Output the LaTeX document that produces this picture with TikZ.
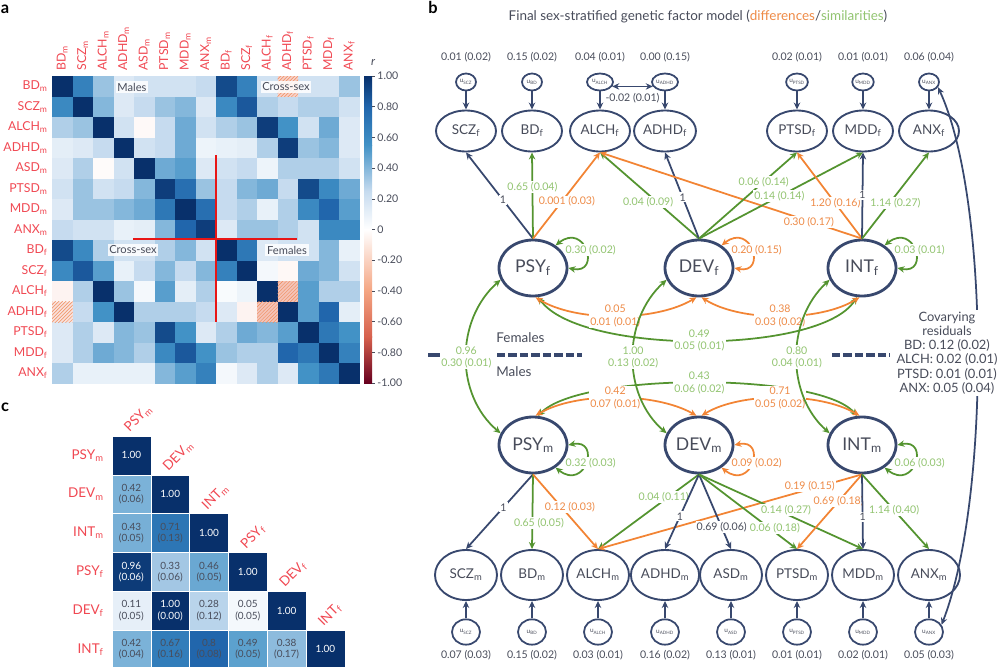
\documentclass[tikz,border=0pt]{standalone}
\usepackage{fontspec}
\setmainfont{Lato}
\usetikzlibrary{arrows.meta,shapes.geometric,patterns}

\definecolor{navyc}{RGB}{56,72,110}
\definecolor{txtc}{RGB}{72,76,90}
\definecolor{greenl}{RGB}{84,148,48}
\definecolor{greent}{RGB}{146,196,112}
\definecolor{orangel}{RGB}{242,132,52}
\definecolor{oranget}{RGB}{238,138,70}
\definecolor{redlab}{RGB}{240,72,82}
\definecolor{redcross}{RGB}{232,22,22}
\definecolor{hhigh}{RGB}{8,48,107}
\definecolor{hdeep}{RGB}{33,102,172}
\definecolor{hmid}{RGB}{66,146,198}
\definecolor{hlow}{RGB}{198,219,239}
\definecolor{hneg}{RGB}{230,120,95}
\definecolor{hpeach}{RGB}{244,165,130}
\definecolor{hred}{RGB}{214,96,77}
\definecolor{hdark}{RGB}{103,0,31}
\definecolor{hatchc}{RGB}{240,140,90}

% colour of a correlation cell -> cc
\newcommand\heat[1]{%
  \pgfmathsetmacro\hv{#1}%
  \ifdim\hv pt<0pt
    \pgfmathsetmacro\hp{min(100,-110*\hv)}%
    \colorlet{cc}{hneg!\hp!white}%
  \else\ifdim\hv pt<0.25pt
    \pgfmathsetmacro\hp{400*\hv}%
    \colorlet{cc}{hlow!\hp!white}%
  \else\ifdim\hv pt<0.55pt
    \pgfmathsetmacro\hp{333.3*(\hv-0.25)}%
    \colorlet{cc}{hmid!\hp!hlow}%
  \else\ifdim\hv pt<0.8pt
    \pgfmathsetmacro\hp{400*(\hv-0.55)}%
    \colorlet{cc}{hdeep!\hp!hmid}%
  \else
    \pgfmathsetmacro\hp{min(100,500*(\hv-0.8))}%
    \colorlet{cc}{hhigh!\hp!hdeep}%
  \fi\fi\fi\fi}
\newcommand\msub[1]{#1\textsubscript{m}}
\newcommand\fsub[1]{#1\textsubscript{f}}

\begin{document}
\begin{tikzpicture}[x=0.3mm, y=-0.3mm,
  hlab/.style={text=redlab, inner sep=1pt, font=\fontsize{10.5}{12}\selectfont},
  hnote/.style={fill=white, fill opacity=0.85, text opacity=1, text=txtc, inner sep=1.5pt, font=\fontsize{9.5}{10}\selectfont},
  tick/.style={text=txtc, inner sep=1pt, font=\fontsize{9}{10}\selectfont},
  cval/.style={align=center, inner sep=0pt, font=\fontsize{8.5}{9.5}\selectfont},
  clab/.style={text=redlab, inner sep=1pt, font=\fontsize{11.5}{13}\selectfont},
  ind/.style={ellipse, draw=navyc, line width=1.6pt, minimum width=18mm, minimum height=12.3mm, inner sep=0pt, text=txtc, font=\fontsize{11.5}{12}\selectfont},
  indm/.style={ind, minimum width=18.6mm, minimum height=15mm},
  fac/.style={ellipse, draw=navyc, line width=2.4pt, minimum width=20.4mm, minimum height=16.8mm, inner sep=0pt, text=txtc, font=\fontsize{15}{16}\selectfont},
  res/.style={ellipse, draw=navyc, line width=1.5pt, minimum height=5.1mm, inner sep=0pt, text=txtc, font=\fontsize{5.5}{6}\selectfont},
  resm/.style={res, minimum width=8.4mm, minimum height=7.6mm},
  val/.style={text=txtc, inner sep=1pt, font=\fontsize{9}{10}\selectfont},
  arr/.style={line width=1.5pt, -{Stealth[length=6pt,width=5.5pt]}},
  biarr/.style={line width=1.5pt, {Stealth[length=6pt,width=5.5pt]}-{Stealth[length=6pt,width=5.5pt]}},
  navyp/.style={arr, navyc}, greenp/.style={arr, greenl}, orangep/.style={arr, orangel},
  gbi/.style={biarr, greenl}, obi/.style={biarr, orangel},
  plab/.style={fill=white, inner sep=1pt, align=center, font=\fontsize{9}{10.5}\selectfont},
  glab/.style={plab, text=greent}, olab/.style={plab, text=oranget}, nlab/.style={plab, text=txtc},
  letter/.style={font=\fontsize{14}{15}\selectfont\bfseries, inner sep=0pt}]
\useasboundingbox (0,0) rectangle (1000,666);

% ---------------- a: correlation matrix
\node[letter] (la) at (5,9) {a};
\foreach \row [count=\r] in {
  {1,.65,.35,.15,.2,.2,.2,.25,.9,.65,.2,-.3,.2,.2,.35},
  {.6,1,.4,.15,.25,.35,.4,.15,.6,.85,.3,.25,.3,.3,.2},
  {.3,.35,1,.2,-.04,.25,.45,.2,.3,.35,.95,.55,.2,.45,.15},
  {.12,.15,.25,1,.2,.25,.45,.08,.1,.12,.3,.95,.35,.4,.15},
  {.15,.3,-.03,.2,1,.45,.5,.15,.2,.25,.08,.3,.3,.3,.2},
  {.2,.35,.2,.25,.4,.95,.75,.35,.25,.4,.45,.25,.9,.6,.45},
  {.15,.35,.35,.4,.45,.7,1,.75,.25,.3,.1,.3,.6,.8,.5},
  {.25,.2,.2,.1,.12,.4,.8,.95,.15,.35,.35,.3,.2,.6,.6},
  {.9,.6,.3,.2,.2,.3,.4,.2,1,.7,.15,.2,.2,.4,.1},
  {.6,.85,.5,.1,.25,.4,.25,.4,.65,1,.05,-.05,.45,.4,.2},
  {-.08,.3,1,.35,.05,.5,.12,.3,.03,.08,1,-.4,.5,.3,.3},
  {-.2,.25,.55,1,.3,.3,.3,.25,.15,-.08,-.4,1,.5,.8,.12},
  {.15,.3,.15,.4,.35,.9,.55,.15,.3,.45,.4,.5,1,.7,.55},
  {.15,.3,.45,.4,.3,.6,.85,.55,.35,.3,.3,.8,.7,1,.65},
  {.3,.1,.1,.1,.1,.4,.5,.65,.05,.15,.3,.15,.55,.7,1}} {
  \foreach \v [count=\c] in \row {
    \heat{\v}
    \fill[cc] ({52+(\c-1)*20.5},{76+(\r-1)*20.5}) rectangle +(20.6,20.6);
  }
}
\foreach \r/\c in {1/12,11/12,12/11,12/1}
  \fill[pattern=north east lines, pattern color=hatchc] ({52+(\c-1)*20.5},{76+(\r-1)*20.5}) rectangle +(20.5,20.5);

\foreach \lab [count=\i] in {\msub{BD},\msub{SCZ},\msub{ALCH},\msub{ADHD},\msub{ASD},\msub{PTSD},\msub{MDD},\msub{ANX},\fsub{BD},\fsub{SCZ},\fsub{ALCH},\fsub{ADHD},\fsub{PTSD},\fsub{MDD},\fsub{ANX}} {
  \node[hlab, anchor=east] (row\i) at (49,{76+(\i-0.5)*20.5}) {\lab};
  \node[hlab, anchor=west, rotate=90] (col\i) at ({52+(\i-0.5)*20.5},72) {\lab};
}

\draw[redcross, line width=2.5pt] (216,155) -- (216,322);
\draw[redcross, line width=2.5pt] (133,239) -- (297,239);
\node[hnote] (nmale) at (132,87) {Males};
\node[hnote] (ncross1) at (286,87) {Cross-sex};
\node[hnote] (ncross2) at (133,250) {Cross-sex};
\node[hnote] (nfem) at (287,250) {Females};

% colour bar
\shade[top color=hhigh, bottom color=hdeep] (364,76) rectangle (372,107.1);
\shade[top color=hdeep, bottom color=hmid] (364,107) rectangle (372,145.1);
\shade[top color=hmid, bottom color=hlow] (364,145) rectangle (372,191.1);
\shade[top color=hlow, bottom color=white] (364,191) rectangle (372,229.6);
\shade[top color=white, bottom color=hpeach] (364,229.5) rectangle (372,291);
\shade[top color=hpeach, bottom color=hred] (364,290.9) rectangle (372,337);
\shade[top color=hred, bottom color=hdark] (364,336.9) rectangle (372,383);
\foreach \t [count=\i from 0] in {1.00,0.80,0.60,0.40,0.20,0,-0.20,-0.40,-0.60,-0.80,-1.00} {
  \draw[txtc, line width=0.5pt] (372,{76+\i*30.7}) -- (375,{76+\i*30.7});
  \node[tick, anchor=west] (tk\i) at (376,{76+\i*30.7}) {\t};
}
\node[tick, font=\fontsize{10}{12}\selectfont\itshape] (rlab) at (373,62) {r};

% ---------------- c: factor correlations
\node[letter] (lc) at (5,407) {c};
\foreach \lab [count=\i] in {\msub{PSY},\msub{DEV},\msub{INT},\fsub{PSY},\fsub{DEV},\fsub{INT}} {
  \fill[hhigh, draw=white, line width=0.4pt] ({112+(\i-1)*38.8},{436+(\i-1)*38.8}) rectangle +(38.8,38.8);
  \node[cval, text=white] (d\i) at ({112+(\i-0.5)*38.8},{436+(\i-0.5)*38.8}) {1.00};
  \node[clab, anchor=east] (cr\i) at (105,{436+(\i-0.5)*38.8}) {\lab};
  \node[clab, anchor=west, rotate=45] (cc\i) at ({112+(\i-1)*38.8+14},{436+(\i-1)*38.8-5}) {\lab};
}
\foreach \r/\c/\v/\se in {2/1/0.42/0.06, 3/1/0.43/0.05, 3/2/0.71/0.13, 4/1/0.96/0.06, 4/2/0.33/0.06,
    4/3/0.46/0.05, 5/1/0.11/0.05, 5/2/1.00/0.00, 5/3/0.28/0.12, 5/4/0.05/0.05, 6/1/0.42/0.04,
    6/2/0.67/0.16, 6/3/0.8/0.08, 6/4/0.49/0.05, 6/5/0.38/0.17} {
  \heat{\v}
  \fill[cc, draw=white, line width=0.4pt] ({112+(\c-1)*38.8},{436+(\r-1)*38.8}) rectangle +(38.8,38.8);
  \ifdim\v pt>0.9pt \def\tc{white}\else\def\tc{txtc}\fi
  \node[cval, text=\tc] (e\r\c) at ({112+(\c-0.5)*38.8},{436+(\r-0.5)*38.8}) {\v\\(\se)};
}

% ---------------- b: factor model
\node[letter] (lb) at (433,7) {b};
\node[text=txtc, font=\fontsize{11.5}{13}\selectfont] (title) at (698,17)
  {Final sex-stratified genetic factor model (\textcolor{oranget}{differences}/\textcolor{greent}{similarities})};

% females
\foreach \n/\x/\w/\vv in {SCZ/466/6/0.01 (0.02), BD/532/6/0.15 (0.02), ALCH/600/7.8/0.04 (0.01),
    ADHD/665/7.8/0.00 (0.15), PTSD/797/6/0.02 (0.01), MDD/863/6/0.01 (0.01), ANX/929/6/0.06 (0.04)} {
  \node[ind] (\n-f) at (\x,131) {\fsub{\n}};
  \node[res, minimum width=\w mm] (u\n-f) at (\x,82) {u\textsubscript{\n}};
  \node[val] (v\n-f) at (\x,57) {\vv};
  \draw[navyp] (u\n-f) -- (\n-f);
}
\draw[biarr, navyc] (uALCH-f.-20) -- node[val, below=1.3mm] {-0.02 (0.01)} (uADHD-f.200);

\node[fac] (PSY-f) at (533,268) {\fsub{PSY}};
\node[fac] (DEV-f) at (699,268) {\fsub{DEV}};
\node[fac] (INT-f) at (862,268) {\fsub{INT}};

\draw[navyp] (PSY-f.north) -- node[nlab, pos=.45] {1} (SCZ-f.south);
\draw[greenp] (PSY-f.north) -- node[glab, pos=.6] {0.65 (0.04)} (BD-f.south);
\draw[orangep] (PSY-f.north) -- node[olab, pos=.43, xshift=1.5mm] {0.001 (0.03)} (ALCH-f.south);
\draw[greenp] (DEV-f.north) -- node[glab, pos=.42, xshift=-2.8mm] {0.04 (0.09)} (ALCH-f.south);
\draw[navyp] (DEV-f.north) -- node[nlab, pos=.48] {1} (ADHD-f.south);
\draw[orangep] (INT-f.north) -- node[olab, pos=.19, xshift=-1mm] {0.30 (0.17)} (ALCH-f.south);
\draw[greenp] (DEV-f.north) -- node[glab, pos=.66] {0.06 (0.14)} (PTSD-f.south);
\draw[greenp] (DEV-f.north) -- node[glab, pos=.49] {0.14 (0.14)} (MDD-f.south);
\draw[orangep] (INT-f.north) -- node[olab, pos=.41] {1.20 (0.16)} (PTSD-f.south);
\draw[navyp] (INT-f.north) -- node[nlab, pos=.51] {1} (MDD-f.south);
\draw[greenp] (INT-f.north) -- node[glab, pos=.41, xshift=1.8mm] {1.14 (0.27)} (ANX-f.south);

\draw[gbi] (PSY-f.45) .. controls +(30,-24) and +(33,7) .. (PSY-f.0) node[glab, pos=.5, anchor=west, xshift=-6.6mm] {0.30 (0.02)};
\draw[obi] (DEV-f.45) .. controls +(30,-24) and +(33,7) .. (DEV-f.0) node[olab, pos=.5, anchor=west, xshift=-6.6mm] {0.20 (0.15)};
\draw[gbi] (INT-f.45) .. controls +(30,-24) and +(33,7) .. (INT-f.0) node[glab, pos=.5, anchor=west, xshift=-6.6mm] {0.03 (0.01)};

\draw[gbi] (PSY-f.-80) .. controls (580,355) and (820,355) .. (INT-f.-100) node[glab, midway] {0.49\\0.05 (0.01)};
\draw[obi] (PSY-f.-85) .. controls (575,322) and (655,322) .. (DEV-f.-95) node[olab, midway] {0.05\\0.01 (0.01)};
\draw[obi] (DEV-f.-85) .. controls (740,322) and (820,322) .. (INT-f.-95) node[olab, midway] {0.38\\0.03 (0.02)};

% males
\foreach \n/\x/\vv in {SCZ/466/0.07 (0.03), BD/532/0.15 (0.02), ALCH/598/0.03 (0.01), ADHD/665/0.16 (0.02),
    ASD/731/0.13 (0.01), PTSD/797/0.01 (0.01), MDD/863/0.02 (0.01), ANX/929/0.05 (0.03)} {
  \node[indm] (\n-m) at (\x,575) {\msub{\n}};
  \node[resm] (u\n-m) at (\x,632) {u\textsubscript{\n}};
  \node[val] (v\n-m) at (\x,655) {\vv};
  \draw[navyp] (u\n-m) -- (\n-m);
}

\node[fac] (PSY-m) at (533,445) {\msub{PSY}};
\node[fac] (DEV-m) at (699,445) {\msub{DEV}};
\node[fac] (INT-m) at (862,445) {\msub{INT}};

\draw[navyp] (PSY-m.south) -- node[nlab, pos=.44] {1} (SCZ-m.north);
\draw[greenp] (PSY-m.south) -- node[glab, pos=.65, xshift=2mm] {0.65 (0.05)} (BD-m.north);
\draw[orangep] (PSY-m.south) -- node[olab, pos=.44, xshift=2.5mm] {0.12 (0.03)} (ALCH-m.north);
\draw[greenp] (DEV-m.south) -- node[glab, pos=.3, xshift=-1.5mm] {0.04 (0.11)} (ALCH-m.north);
\draw[orangep] (INT-m.south) -- node[olab, pos=.16, xshift=-3mm] {0.19 (0.15)} (ALCH-m.north);
\draw[navyp] (DEV-m.south) -- node[nlab, pos=.56] {1} (ADHD-m.north);
\draw[navyp] (DEV-m.south) -- node[nlab, pos=.71] {0.69 (0.06)} (ASD-m.north);
\draw[greenp] (DEV-m.south) -- node[glab, pos=.72, xshift=1.6mm] {0.06 (0.18)} (PTSD-m.north);
\draw[greenp] (DEV-m.south) -- node[glab, pos=.48, xshift=2.5mm] {0.14 (0.27)} (MDD-m.north);
\draw[orangep] (INT-m.south) -- node[olab, pos=.36] {0.69 (0.18)} (PTSD-m.north);
\draw[navyp] (INT-m.south) -- node[nlab, pos=.57] {1} (MDD-m.north);
\draw[greenp] (INT-m.south) -- node[glab, pos=.48] {1.14 (0.40)} (ANX-m.north);

\draw[gbi] (PSY-m.0) .. controls +(33,-7) and +(30,24) .. (PSY-m.-45) node[glab, pos=.5, anchor=west, xshift=-6.6mm] {0.32 (0.03)};
\draw[obi] (DEV-m.0) .. controls +(33,-7) and +(30,24) .. (DEV-m.-45) node[olab, pos=.5, anchor=west, xshift=-6.6mm] {0.09 (0.02)};
\draw[gbi] (INT-m.0) .. controls +(33,-7) and +(30,24) .. (INT-m.-45) node[glab, pos=.5, anchor=west, xshift=-6.6mm] {0.06 (0.03)};

\draw[gbi] (PSY-m.80) .. controls (580,372) and (820,372) .. (INT-m.100) node[glab, midway] {0.43\\0.06 (0.02)};
\draw[obi] (PSY-m.85) .. controls (575,392) and (655,392) .. (DEV-m.95) node[olab, midway] {0.42\\0.07 (0.01)};
\draw[obi] (DEV-m.85) .. controls (740,392) and (820,392) .. (INT-m.95) node[olab, midway] {0.71\\0.05 (0.02)};

% females <-> males
\draw[navyc, line width=4pt] (428,355) -- (440,355);
\draw[navyc, line width=4pt, dash pattern=on 7pt off 2.8pt] (497,355) -- (582,355);
\draw[navyc, line width=4pt, dash pattern=on 7pt off 2.8pt] (832,355) -- (890,355);
\node[val, anchor=west, font=\fontsize{11.5}{12}\selectfont] (fem) at (495,338) {Females};
\node[val, anchor=west, font=\fontsize{11.5}{12}\selectfont] (mal) at (495,372) {Males};

\draw[gbi] (PSY-f.200) .. controls (455,320) and (455,395) .. (PSY-m.160) node[glab, midway] {0.96\\0.30 (0.01)};
\draw[gbi] (DEV-f.200) .. controls (622,320) and (622,395) .. (DEV-m.160) node[glab, midway] {1.00\\0.13 (0.02)};
\draw[gbi] (INT-f.200) .. controls (786,320) and (786,395) .. (INT-m.160) node[glab, midway] {0.80\\0.04 (0.01)};

% covarying residuals
\draw[biarr, navyc] (uANX-f.-30) .. controls (990,200) and (990,500) .. (uANX-m.30);
\node[fill=white, text=txtc, align=center, inner sep=1pt, font=\fontsize{11}{12.2}\selectfont] (covres) at (947,353)
  {Covarying\\residuals\\BD: 0.12 (0.02)\\ALCH: 0.02 (0.01)\\PTSD: 0.01 (0.01)\\ANX: 0.05 (0.04)};
\end{tikzpicture}
\end{document}
